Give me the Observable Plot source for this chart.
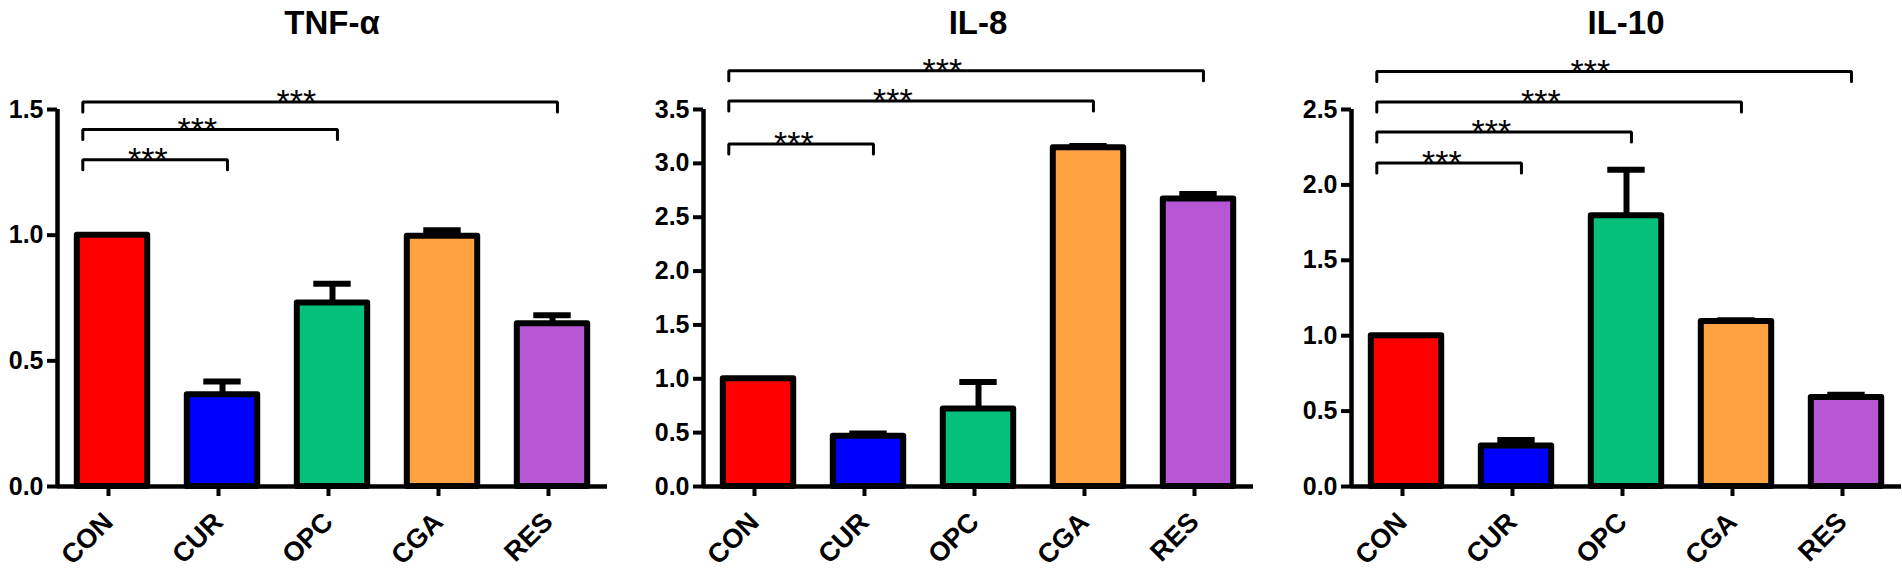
<!DOCTYPE html>
<html><head><meta charset="utf-8">
<script src="https://cdn.jsdelivr.net/npm/d3@7"></script>
<script src="https://cdn.jsdelivr.net/npm/@observablehq/plot@0.6"></script>
<style>
body{margin:0;background:#fff;}
#root{position:relative;width:1902px;height:571px;overflow:hidden;font-family:Arial,"Liberation Sans",sans-serif;}
.panel{position:absolute;top:0;height:571px;}
.title{position:absolute;top:4px;height:38px;line-height:38px;font-weight:bold;font-size:33px;text-align:center;color:#000;}
.panel svg{position:absolute;top:45px;left:0;}
</style></head><body><div id="root"></div>
<script>
const categories = ["CON", "CUR", "OPC", "CGA", "RES"];
const barColors = ["#FF0000", "#0000FF", "#05C07A", "#FFA342", "#B857D6"];

const tnfTitle = "TNF-α";
const tnfMean = [1.0, 0.365, 0.73, 0.996, 0.648];
const tnfErr = [0, 0.053, 0.077, 0.024, 0.033];
const tnfTicks = [0, 0.5, 1.0, 1.5];
const tnfBracketTo = ["CUR", "OPC", "RES"];
const tnfBracketY = [1.30, 1.42, 1.53];
const tnfBracketLabel = ["***", "***", "***"];

const il8Title = "IL-8";
const il8Mean = [1.0, 0.467, 0.72, 3.145, 2.67];
const il8Err = [0, 0.025, 0.25, 0.015, 0.045];
const il8Ticks = [0, 0.5, 1.0, 1.5, 2.0, 2.5, 3.0, 3.5];
const il8BracketTo = ["CUR", "CGA", "RES"];
const il8BracketY = [3.18, 3.58, 3.86];
const il8BracketLabel = ["***", "***", "***"];

const il10Title = "IL-10";
const il10Mean = [1.0, 0.268, 1.795, 1.094, 0.59];
const il10Err = [0, 0.04, 0.305, 0.008, 0.018];
const il10Ticks = [0, 0.5, 1.0, 1.5, 2.0, 2.5];
const il10BracketTo = ["CUR", "OPC", "CGA", "RES"];
const il10BracketY = [2.146, 2.35, 2.549, 2.752];
const il10BracketLabel = ["***", "***", "***", "***"];

const FONT = "Arial, 'Liberation Sans', sans-serif";

function makePanel(cfg) {
  const {title, mean, err, ticks, bracketTo, bracketY, bracketLabel, left, marginLeft, width, marginRight} = cfg;
  const H = 526, mT = 64, mB = 85;
  const yMax = ticks[ticks.length - 1];
  const pxPerUnit = (H - mT - mB) / yMax;
  const drop = 10 / pxPerUnit;
  const idx = c => categories.indexOf(c);
  const rows = categories.map((c, i) => ({c, i, v: mean[i], e: err[i]}));
  const errRows = rows.filter(d => d.e > 0);
  const br = bracketTo.map((t, k) => ({k, label: bracketLabel[k], y: bracketY[k], x1: idx("CON") - 0.27, x2: idx(t) + 0.045}));
  const brPts = br.flatMap(b => [
    {k: b.k, x: b.x1, y: b.y - drop}, {k: b.k, x: b.x1, y: b.y},
    {k: b.k, x: b.x2, y: b.y}, {k: b.k, x: b.x2, y: b.y - drop}
  ]);
  const svg = Plot.plot({
    width, height: H, marginLeft, marginRight, marginTop: mT, marginBottom: mB,
    x: {domain: [-0.5, 4.5], axis: null},
    y: {domain: [0, yMax], axis: null},
    color: {domain: categories, range: barColors},
    style: {fontFamily: FONT, background: "transparent", color: "black", overflow: "visible"},
    marks: [
      Plot.ruleX(errRows, {x: "i", y1: "v", y2: d => d.v + d.e, stroke: "black", strokeWidth: 6}),
      Plot.ruleY(errRows, {y: d => d.v + d.e, x1: d => d.i - 0.17, x2: d => d.i + 0.17, stroke: "black", strokeWidth: 6}),
      Plot.rect(rows, {x1: d => d.i - 0.32, x2: d => d.i + 0.32, y1: 0, y2: "v", fill: "c", stroke: "black", strokeWidth: 6, strokeLinejoin: "round"}),
      Plot.ruleX([-0.5], {y1: 0, y2: yMax, stroke: "black", strokeWidth: 4.5}),
      Plot.ruleY([0], {stroke: "black", strokeWidth: 4.5}),
      Plot.axisY({ticks, tickFormat: d3.format(".1f"), tickSize: 10, tickPadding: 4, strokeWidth: 4, fontSize: 25, fontWeight: "bold", color: "black"}),
      Plot.axisX({ticks: categories.map((c, i) => i), tickFormat: i => categories[i], tickRotate: -45, tickSize: 10, tickPadding: 21, strokeWidth: 4, fontSize: 27, fontWeight: "bold", color: "black", dx: -4}),
      Plot.line(brPts, {x: "x", y: "y", z: "k", stroke: "black", strokeWidth: 3, strokeLinejoin: "miter"}),
      Plot.text(br, {x: d => d.x1 + 0.45 * (d.x2 - d.x1), y: "y", text: "label", fontSize: 34, lineAnchor: "top", dy: -13, fill: "black"})
    ]
  });
  const div = document.createElement("div");
  div.className = "panel";
  div.style.left = left + "px";
  div.style.width = width + "px";
  const t = document.createElement("div");
  t.className = "title";
  t.textContent = title;
  t.style.left = marginLeft + "px";
  t.style.width = (width - marginLeft - marginRight) + "px";
  div.appendChild(t);
  div.appendChild(svg);
  document.getElementById("root").appendChild(div);
}

makePanel({title: tnfTitle, mean: tnfMean, err: tnfErr, ticks: tnfTicks, bracketTo: tnfBracketTo, bracketY: tnfBracketY, bracketLabel: tnfBracketLabel,
  left: 0, marginLeft: 57, width: 615, marginRight: 8});
makePanel({title: il8Title, mean: il8Mean, err: il8Err, ticks: il8Ticks, bracketTo: il8BracketTo, bracketY: il8BracketY, bracketLabel: il8BracketLabel,
  left: 630, marginLeft: 73, width: 631, marginRight: 8});
makePanel({title: il10Title, mean: il10Mean, err: il10Err, ticks: il10Ticks, bracketTo: il10BracketTo, bracketY: il10BracketY, bracketLabel: il10BracketLabel,
  left: 1266, marginLeft: 85, width: 636, marginRight: 1});
</script>
</body></html>
